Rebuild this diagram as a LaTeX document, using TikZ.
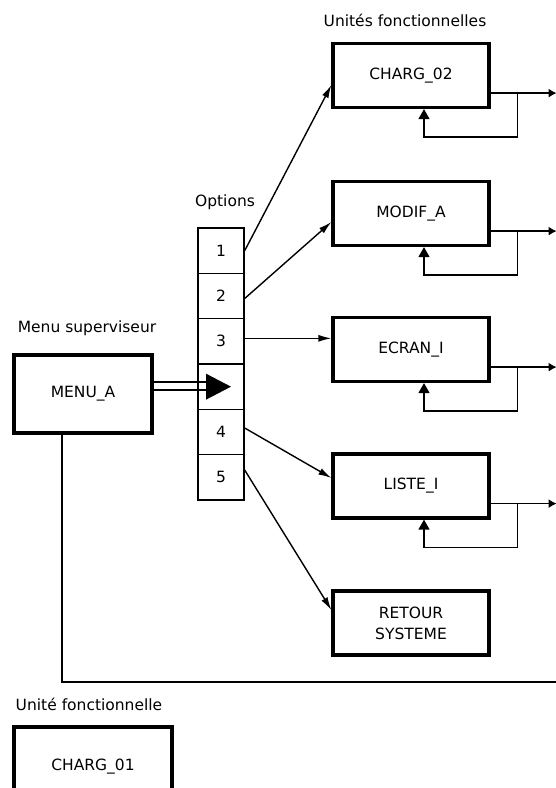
\documentclass[tikz,border=0pt]{standalone}
\usepackage{fontspec}
\setmainfont{DejaVu Sans}
\usetikzlibrary{arrows.meta,calc}
\begin{document}
\begin{tikzpicture}[x=1pt,y=-1pt,
  every node/.style={font=\fontsize{15.5}{21}\selectfont},
  box/.style={draw, line width=3.2pt, minimum width=156pt, minimum height=64pt, inner sep=0pt, align=center},
  cell/.style={draw, line width=1.4pt, minimum width=46pt, minimum height=45.33pt, inner sep=0pt},
  conn/.style={line width=1.4pt},
  arr/.style={conn, -{Latex[length=13pt,width=7pt]}},
  outarr/.style={conn, -{Latex[length=8pt,width=9pt]}},
  looparr/.style={conn, -{Triangle[length=10pt,width=11pt]}},
  lbl/.style={inner sep=0pt}
]
\useasboundingbox (0,0) rectangle (555,788);

% labels
\node[lbl] (lunits) at (405,20) {Unités fonctionnelles};
\node[lbl] (lopt) at (225,202) {Options};
\node[lbl] (lmenu) at (87,328) {Menu superviseur};
\node[lbl] (lunit) at (89,704) {Unité fonctionnelle};

% functional units
\node[box] (b1) at (411,75.5) {CHARG\_02};
\node[box] (b2) at (411,213.5) {MODIF\_A};
\node[box] (b3) at (411,349.5) {ECRAN\_I};
\node[box] (b4) at (411,486) {LISTE\_I};
\node[box] (b5) at (411,623) {RETOUR\\SYSTEME};

% supervisor menu
\node[box, minimum width=138pt, minimum height=78pt] (menu) at (83,394) {MENU\_A};

% CHARG_01 (cut by the page edge)
\node[box, minimum width=158pt, minimum height=80pt] (c01) at (93,767) {CHARG\_01};

% options column
\node[cell] (c1) at (221,250.67) {1};
\node[cell] (c2) at (221,296) {2};
\node[cell] (c3) at (221,341.33) {3};
\node[cell] (c4) at (221,386.67) {};
\node[cell] (c5) at (221,432) {4};
\node[cell] (c6) at (221,477.33) {5};

% option arrows
\draw[arr] (c1.east) -- ([yshift=-9.5pt]b1.west);
\draw[arr] ([yshift=-2.5pt]c2.east) -- ([yshift=-8.5pt]b2.west);
\draw[arr] ([yshift=3pt]c3.east) -- ([yshift=3pt]c3.east -| b3.west);
\draw[arr] ([yshift=4pt]c5.east) -- ([yshift=8pt]b4.west);
\draw[arr] ([yshift=7.3pt]c6.east) -- ([yshift=13pt]b5.west);

% double arrow from menu to the options
\draw[conn] ([yshift=12pt]menu.east) -- ([yshift=12pt,xshift=-12pt]menu.east -| c4.center);
\draw[conn] ([yshift=4pt]menu.east) -- ([yshift=4pt,xshift=-12pt]menu.east -| c4.center);
\fill ($(c4.center)+(-15,-13)$) -- ($(c4.center)+(-15,13)$) -- ($(c4.center)+(10,0)$) -- cycle;

% feedback loops and outputs
\foreach \b in {b1,b2,b3,b4}{
  \coordinate (o) at ([yshift=16pt]\b.south east);
  \coordinate (e) at ($(o)+(66,0)$);
  \coordinate (j) at ($(o)+(27,0)$);
  \coordinate (k) at ([xshift=13pt,yshift=-28pt]\b.south);
  \draw[outarr] (o) -- (e);
  \draw[looparr] (j) |- (k) -- (k |- \b.south);
}

% long line from the menu
\coordinate (e0) at (556,682);
\draw[conn] ([xshift=-21pt]menu.south) |- (e0);
\end{tikzpicture}
\end{document}
